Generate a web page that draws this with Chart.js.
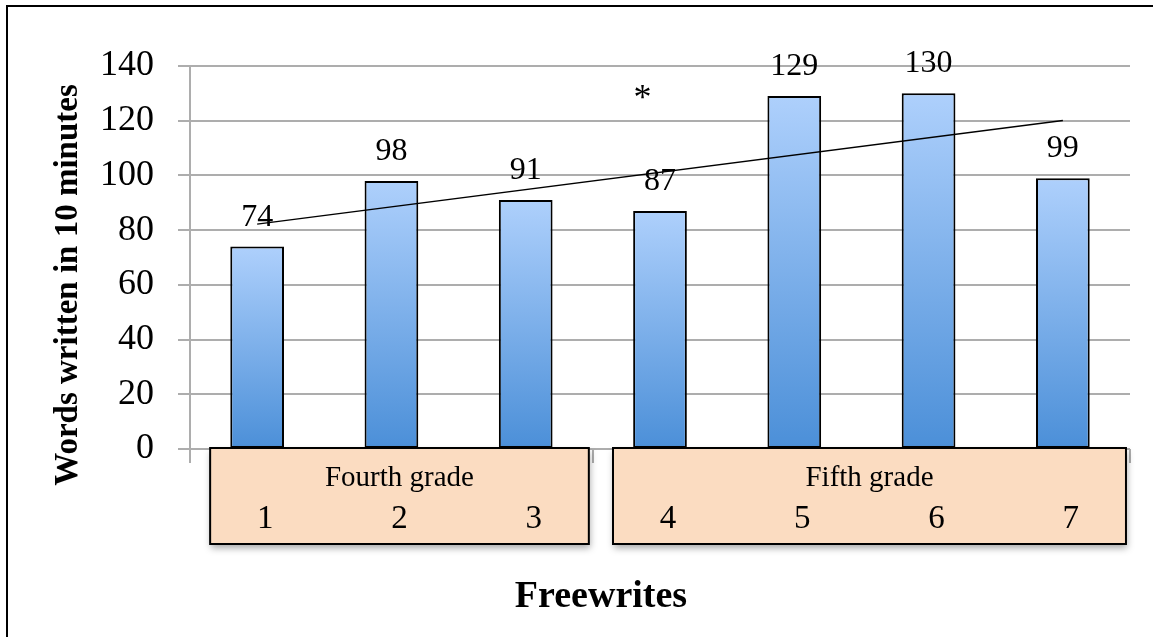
<!DOCTYPE html>
<html>
<head>
<meta charset="utf-8">
<script src="https://cdn.jsdelivr.net/npm/chart.js@4.4.1/dist/chart.umd.min.js"></script>
<style>
  html, body { margin: 0; padding: 0; background: #fff; }
  #wrap { position: relative; width: 1153px; height: 637px; overflow: hidden; }
  #frame { position: absolute; left: 6px; top: 5px; right: -10px; bottom: -10px;
           border-left: 2px solid #000; border-top: 2px solid #000; pointer-events: none; }
  canvas { position: absolute; left: 0; top: 0; }
</style>
</head>
<body>
<div id="wrap">
  <canvas id="chart" width="1153" height="637"></canvas>
  <div id="frame"></div>
</div>
<script>
const freewrites = ['1', '2', '3', '4', '5', '6', '7'];
const words = [74, 98, 91, 87, 129, 130, 99];
// trend line end points
const trend = [82.2, null, null, null, null, null, 120.1];

const gradeNames = ['Fourth grade', 'Fifth grade'];
const gradeFirst = [0, 3];
const gradeLast = [2, 6];

const yMax = 140;
const yStep = 20;

const noteMark = '*';
const noteAt = 3;
const noteValue = 131;

const serif = '"Liberation Serif", "Times New Roman", serif';
const gridGray = '#adadad';

function barGradient(c) {
    const chart = c.chart;
    const y = chart.scales.y;
    if (!chart.chartArea || !y || c.raw == null) return '#7fb2ee';
    const top = y.getPixelForValue(c.raw);
    const bottom = y.getPixelForValue(0);
    const g = chart.ctx.createLinearGradient(0, top, 0, bottom);
    g.addColorStop(0, '#aed0fc');
    g.addColorStop(1, '#4b8fd8');
    return g;
}

const extras = {
    id: 'extras',
    afterDatasetsDraw(chart) {
        const ctx = chart.ctx;
        const x = chart.scales.x;
        const y = chart.scales.y;
        const step = x.getPixelForValue(1) - x.getPixelForValue(0);
        const base = y.getPixelForValue(0) - 1;

        // grade boxes under the axis
        ctx.save();
        for (let i = 0; i < gradeNames.length; i++) {
            const left = x.getPixelForValue(gradeFirst[i]) - step * 0.35;
            const right = x.getPixelForValue(gradeLast[i]) + step * 0.47;
            const h = 96;
            ctx.save();
            ctx.shadowColor = 'rgba(0,0,0,0.35)';
            ctx.shadowBlur = 7;
            ctx.shadowOffsetX = 1;
            ctx.shadowOffsetY = 4;
            ctx.fillStyle = '#fbdcc1';
            ctx.fillRect(left, base, right - left, h);
            ctx.restore();
            ctx.lineWidth = 2;
            ctx.strokeStyle = '#000';
            ctx.strokeRect(left, base, right - left, h);
            ctx.fillStyle = '#000';
            ctx.font = '29px ' + serif;
            ctx.textAlign = 'center';
            ctx.textBaseline = 'middle';
            ctx.fillText(gradeNames[i], (left + right) / 2, base + 30);
        }

        // value labels above the bars
        ctx.font = '32px ' + serif;
        ctx.textAlign = 'center';
        ctx.textBaseline = 'alphabetic';
        chart.getDatasetMeta(1).data.forEach((bar, i) => {
            ctx.fillText(String(words[i]), bar.x, bar.y - 21);
        });

        // asterisk note
        ctx.font = '36px ' + serif;
        ctx.fillText(noteMark, x.getPixelForValue(noteAt) - step * 0.13, y.getPixelForValue(noteValue) + 18);

        // axis titles
        ctx.font = 'bold 33px ' + serif;
        ctx.textBaseline = 'middle';
        ctx.save();
        ctx.translate(68, 285);
        ctx.rotate(-Math.PI / 2);
        ctx.fillText('Words written in 10 minutes', 0, 0);
        ctx.restore();
        ctx.font = 'bold 38px ' + serif;
        ctx.fillText('Freewrites', 601, 597);
        ctx.restore();
    }
};

new Chart(document.getElementById('chart'), {
    data: {
        labels: freewrites,
        datasets: [{
            type: 'line',
            label: 'Trend',
            data: trend,
            borderColor: '#000',
            borderWidth: 1.5,
            pointRadius: 0,
            spanGaps: true,
            fill: false,
            order: 0,
        }, {
            type: 'bar',
            label: 'Words',
            data: words,
            backgroundColor: barGradient,
            borderColor: '#000',
            borderWidth: 2,
            borderSkipped: false,
            barPercentage: 0.4,
            categoryPercentage: 1,
            order: 1,
        }],
    },
    options: {
        responsive: false,
        devicePixelRatio: 1,
        animation: false,
        layout: {
            padding: { top: 66, right: 23, left: 0, bottom: 0 },
        },
        plugins: {
            legend: { display: false },
            tooltip: { enabled: false },
        },
        scales: {
            x: {
                grid: {
                    offset: true,
                    drawOnChartArea: false,
                    drawTicks: true,
                    tickLength: 14,
                    color: gridGray,
                    lineWidth: 2,
                },
                border: { display: false },
                ticks: {
                    z: 1,
                    color: '#000',
                    font: { family: serif, size: 33 },
                    padding: 37,
                    labelOffset: 8,
                    maxRotation: 0,
                },
                afterFit(scale) { scale.height = 188; },
            },
            y: {
                min: 0,
                max: yMax,
                grid: {
                    color: gridGray,
                    lineWidth: 2,
                    tickLength: 12,
                },
                border: { color: gridGray, width: 2 },
                ticks: {
                    stepSize: yStep,
                    color: '#000',
                    font: { family: serif, size: 36 },
                    padding: 24,
                },
                afterFit(scale) { scale.width = 190; },
            },
        },
    },
    plugins: [extras],
});
</script>
</body>
</html>
